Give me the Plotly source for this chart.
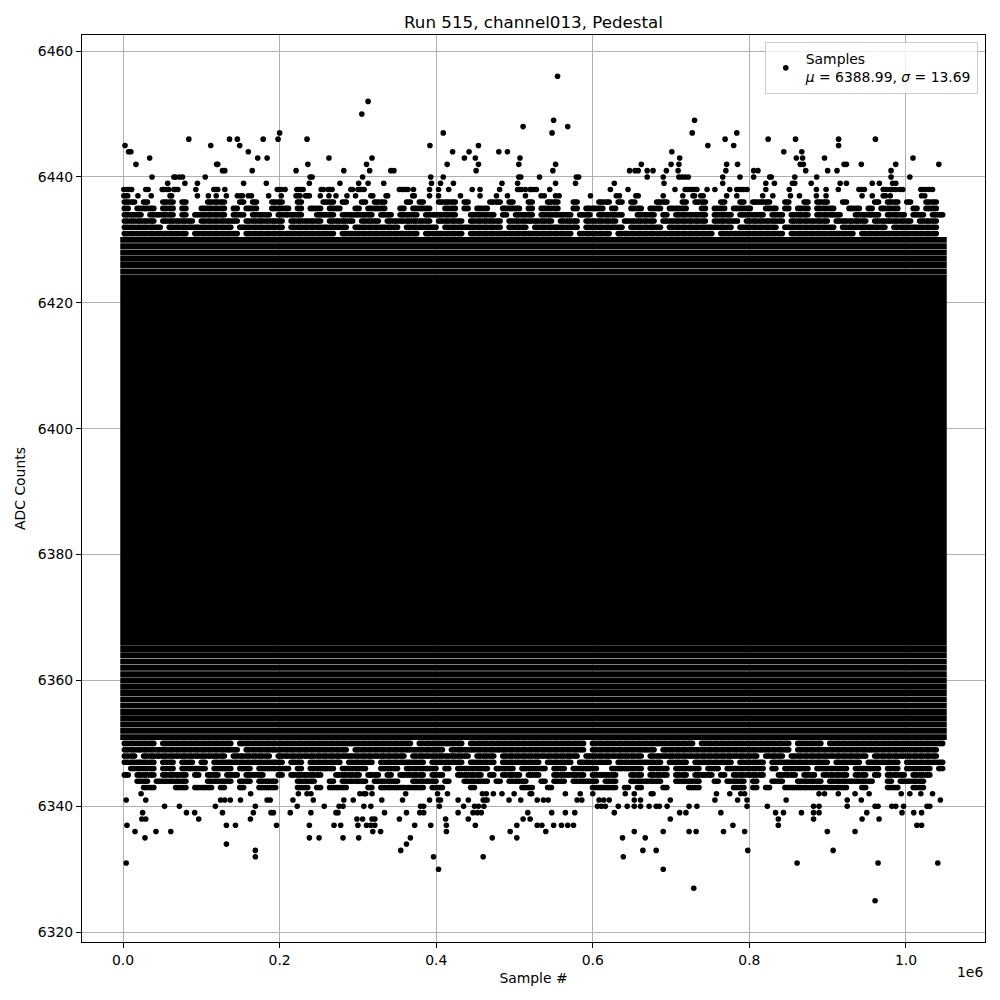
import plotly.graph_objects as go

# ---------------- data ----------------
N_SAMPLES = 1048576          # samples 0 .. 1048575
CELL = 8192                  # samples per cell of the occupancy patterns below

chart_title = "Run 515, channel013, Pedestal"
x_label = "Sample #"
y_label = "ADC Counts"
x_offset_text = "1e6"
legend_label = "Samples<br><i>μ</i> = 6388.99, <i>σ</i> = 13.69"

x_tick_vals = [0, 200000, 400000, 600000, 800000, 1000000]
x_tick_text = ["0.0", "0.2", "0.4", "0.6", "0.8", "1.0"]
y_tick_vals = [6320, 6340, 6360, 6380, 6400, 6420, 6440, 6460]

# ADC levels so densely populated that every sample column is filled
core_low = 6366
core_high = 6424
solid_levels = [6351, 6352, 6353, 6354, 6355, 6356, 6357, 6358, 6359, 6360,
                6361, 6362, 6363, 6364, 6365,
                6425, 6426, 6427, 6428, 6429, 6430]

# partially filled ADC levels: '#' = cell of 8192 samples containing points
pattern_levels = [6436, 6435, 6434, 6433, 6432, 6431,
                  6350, 6349, 6348, 6347, 6346, 6345, 6344, 6343]
pattern_rows = [
    "##.#..##.#...###..#.#..##..#...##.#..#.##...#.#..###.#...##.#..#..##..#...##.#.#...##..#.##..#..#.###..#..#.##..#....#.##.#..##.#.",
    "#.###.##.#..####.#.##..###.#.##.##..#.###..#.###..##.#.##..###.#.###..#.###.#..##.##.###..#.##.###..##.#.##.###..##.#.###..#.##.",
    "###.####.#.#####.##.###.####..###.#####.##.###.#####..####.#.###.#####.##.####..###.#.#####.###.####.##.###.####..####.###.##.##",
    "#####.#####.######.######.#####.####.###.#######.####.#####.#######.###.#####.#####.#######.####.######.######.#####.######.###",
    "######.##########.#######.#########.#######.#####.#########.###.#######.######.#####.##########.######.########.#######.#######",
    "##########.#######.##############.############.######.################.#####.###############.##########.##########.############",
    "#####.###########.###########################.#######.##################.################.##############.####.##################",
    "##################.################.##############.#####################.##########.####################.######################",
    "##.#############.######.####################.#########.###.############.#########.#################.###.############.##########",
    "#####.##.##.#.###########.##.#####.####.#######.#####.####.######.####.#####.#######.###.######.####.#########.####.#####.######",
    ".####.##.####.###.##.#####.#.####.####..###.#####.#.#####.###.####.##.####..#####.###.####.##.######.#.####.#####.####.##.####.#",
    "#.###.####.#.##.##.###..#.#####..####.##.#.####.##..####.#.###.##..#####.####..##.###.##.###.#.#####..###.##.####.##.#.###.###.",
    "..##.#####...####.##.###...###..#.####.####..####.#..####.#.###..#.##.####.##..#####..####..#.###.#..##..####.#######..#.####..",
    "...##...##.###.#..#..###...##.#.###...#.#######.##....#.......##..#......####.#.#...#...##.....##.#.#..##########..#...##..##",
]

# isolated samples away from the band: ADC level and sample positions (thousands)
outlier_levels = [6456, 6452, 6450, 6449, 6448, 6447, 6446, 6445, 6444, 6443,
                  6442, 6441, 6440, 6439, 6438, 6437,
                  6342, 6341, 6340, 6339, 6338, 6337, 6336, 6335, 6334, 6333,
                  6332, 6331, 6330, 6327, 6325]
outlier_ksamples = [
    [555],
    [313],
    [305],
    [550, 730],
    [511, 568],
    [200, 409, 548, 727, 784],
    [84, 136, 146, 179, 198, 235, 769, 824, 859, 914, 961],
    [2.5, 112, 149, 392, 454, 747, 780, 914],
    [7, 10, 160, 421, 442, 480, 491, 701, 844, 867],
    [34, 172, 184, 263, 318, 436, 450, 507, 711, 860, 868, 896, 1009],
    [16.5, 119.5, 121, 236, 311, 414, 454, 505.5, 552.5, 662, 700, 710, 771, 785,
     865, 869, 921, 924, 943, 987, 1042],
    [127, 130, 165, 221, 282, 315, 342, 346, 451, 549, 647, 654, 658, 669.5, 677,
     694, 709, 770, 805.5, 811, 872, 900, 912, 981],
    [37, 65, 67, 72, 76, 105, 239, 241.5, 306, 393, 409, 505.5, 508, 532, 579, 582,
     669.5, 690, 710, 714, 718, 722, 766, 788, 805.5, 826, 828, 858, 886, 981, 1005],
    [57, 79, 95, 154, 183, 238, 277, 301, 313, 333, 394, 405.5, 422, 484, 504, 552.5,
     578, 627.5, 691, 766, 821, 832, 855, 858, 879, 916, 924, 957, 966, 983, 987],
    [1, 5, 8, 11, 29, 32, 50, 52, 56, 58.5, 65, 67, 70, 93, 116, 118.5, 121, 130, 197,
     199.5, 202, 207, 222, 224.5, 227, 230, 253, 256, 262, 264, 267, 291, 293, 300,
     302.5, 305, 308, 353, 356, 358.5, 361, 364, 371, 391.5, 403, 416, 446, 456, 481,
     504, 506.5, 509, 514, 520, 522, 525, 528, 545, 622.5, 645, 705, 718, 721, 724,
     727, 730, 733, 746, 756, 775, 784, 787, 790, 793, 797, 821, 851, 885.6, 898,
     913.6, 940, 943, 947, 971, 975, 979.7, 983, 987, 992, 996, 1019, 1022, 1026,
     1030, 1034],
    [1, 3.5, 6, 19, 36, 60, 62, 95, 109, 119, 132, 146, 150, 152.5, 160, 164, 186, 202,
     221, 223.5, 226, 233, 235.5, 238, 252, 263, 272, 286, 297, 316.5, 319, 336, 338,
     370, 372, 391.5, 403, 431, 456, 477, 491, 514, 534, 538, 552.5, 557, 597, 630,
     634, 655, 658, 690, 715, 728, 730, 738, 741, 771, 784, 817, 830, 852.5, 864,
     885.6, 898, 944, 957, 971, 974, 980, 1020, 1024],
    [23, 163, 224, 235, 240, 302.5, 307.6, 310, 318, 361, 401.7, 414.4, 459, 464, 473,
     484, 499.6, 520, 522, 565, 584, 600, 641.5, 653, 674.6, 677, 758, 775, 789, 794,
     889, 896, 913.6, 935, 953, 994, 1005, 1019, 1034],
    [4, 29, 124.6, 130, 137, 150, 184, 188, 217, 243, 282, 294, 330.5, 357, 391.5, 403,
     405.5, 428, 441, 460, 463, 465, 493, 508, 529, 537, 543, 580, 586, 608, 614, 621,
     653, 661, 699, 756, 785, 797, 847, 925, 943, 1044],
    [53, 72, 118, 169, 222.5, 257, 276, 281, 307.6, 316.5, 380, 384, 404, 435, 449, 454,
     461, 606, 611, 616, 632.6, 644, 653, 661, 672, 681, 685, 695, 723, 733, 797, 823,
     882, 889, 925, 960.6, 964.4, 982, 987, 997, 1027, 1030.5],
    [25, 81, 91.5, 127, 166.5, 189, 192, 213.6, 240, 272, 274.6, 334, 362, 379, 384, 428,
     447, 452.5, 457.6, 517, 547.5, 565, 577, 627.5, 711, 719, 763.6, 833.5, 843.6,
     866.5, 882, 889, 950, 995, 1010, 1020],
    [24, 29, 96.6, 162.7, 298.7, 306, 318, 321.6, 353, 412, 441, 511, 520, 699, 837, 882,
     944, 965.7],
    [5, 132, 143.6, 196, 238, 269.5, 278, 300, 311, 316.5, 321.6, 372.5, 393, 413, 450,
     503, 529, 535, 550, 560, 568, 575.4, 779, 837, 1014, 1020],
    [15.3, 42, 61, 319, 329, 413, 494.5, 540, 653, 690, 723, 732, 767, 794, 899.6, 935],
    [28, 238, 250.4, 281, 301, 367, 471.6, 503, 638, 667],
    [132, 362],
    [169, 354.7, 664, 681, 798, 907],
    [169, 396.6, 460, 639],
    [4, 861, 964.4, 1040.7],
    [403, 690],
    [729],
    [960.6],
]

# ---------------- figure ----------------
X_RANGE = [-0.05 * (N_SAMPLES - 1), 1.05 * (N_SAMPLES - 1)]
Y_RANGE = [6325 - 0.05 * 131, 6456 + 0.05 * 131]
PLOT_W, PLOT_H = 903, 907
MARKER_D = 5.6
rx = (MARKER_D / 2) * (X_RANGE[1] - X_RANGE[0]) / PLOT_W
ry = 0.5

fig = go.Figure()

# dense core
fig.add_trace(go.Scatter(
    x=[-rx, N_SAMPLES - 1 + rx, N_SAMPLES - 1 + rx, -rx, -rx],
    y=[core_low - ry, core_low - ry, core_high + ry, core_high + ry, core_low - ry],
    mode="lines", fill="toself", fillcolor="black", line=dict(width=0, color="black"),
    showlegend=False, hoverinfo="skip"))

# fully occupied single levels
lx, ly = [], []
for lvl in solid_levels:
    lx += [-rx, N_SAMPLES - 1 + rx, None]
    ly += [lvl, lvl, None]
fig.add_trace(go.Scatter(x=lx, y=ly, mode="lines",
                         line=dict(color="black", width=5.9),
                         showlegend=False, hoverinfo="skip"))

# partially occupied levels
px_, py_ = [], []
for lvl, row in zip(pattern_levels, pattern_rows):
    for i, ch in enumerate(row[:N_SAMPLES // CELL]):
        if ch == "#":
            for f in (0.2, 0.5, 0.8):
                px_.append((i + f) * CELL)
                py_.append(lvl)
fig.add_trace(go.Scatter(x=px_, y=py_, mode="markers",
                         marker=dict(color="black", size=MARKER_D, line=dict(width=0)),
                         showlegend=False, hoverinfo="skip"))

# isolated samples (legend entry)
ox, oy = [], []
for lvl, ks in zip(outlier_levels, outlier_ksamples):
    for k in ks:
        ox.append(k * 1000)
        oy.append(lvl)
fig.add_trace(go.Scatter(x=ox, y=oy, mode="markers", name=legend_label,
                         marker=dict(color="black", size=MARKER_D, line=dict(width=0))))

font = "DejaVu Sans, Verdana, sans-serif"
axis_common = dict(showline=True, mirror=True, linecolor="black", linewidth=1,
                   ticks="outside", ticklen=5, tickwidth=1, tickcolor="black",
                   showgrid=True, gridcolor="#b0b0b0", gridwidth=1, zeroline=False,
                   automargin=False,
                   tickfont=dict(size=13.9, color="black", family=font))

# the page body adds an 8 px offset; margins compensate so the plot area
# lands on the reference's axes box (x 82..985, y 35..942)
ML, MT = 74, 27
fig.update_layout(
    width=1000, height=1000,
    margin=dict(l=ML, r=1000 - ML - PLOT_W, t=MT, b=1000 - MT - PLOT_H),
    paper_bgcolor="white", plot_bgcolor="white",
    font=dict(family=font, color="black", size=13.9),
    title=dict(text=chart_title, x=0.5, xref="paper", xanchor="center",
               y=1 - 14 / 1000, yanchor="middle", yref="container",
               font=dict(size=16.7, family=font, color="black")),
    xaxis=dict(range=X_RANGE, tickvals=x_tick_vals, ticktext=x_tick_text,
               title=dict(text=x_label, standoff=6, font=dict(size=13.9)),
               **axis_common),
    yaxis=dict(range=Y_RANGE, tickvals=y_tick_vals,
               title=dict(text=y_label, standoff=8, font=dict(size=13.9)),
               **axis_common),
    legend=dict(x=0.992, y=0.992, xanchor="right", yanchor="top",
                bgcolor="rgba(255,255,255,0.8)", bordercolor="#cccccc",
                borderwidth=1, font=dict(size=13.9, family=font, color="black")),
    showlegend=True,
    annotations=[dict(text=x_offset_text, xref="paper", yref="paper", x=1.0,
                      y=-(972 - 942) / PLOT_H, xanchor="right", yanchor="middle",
                      showarrow=False, font=dict(size=13.9, family=font))],
)

fig.write_html("out.html")
